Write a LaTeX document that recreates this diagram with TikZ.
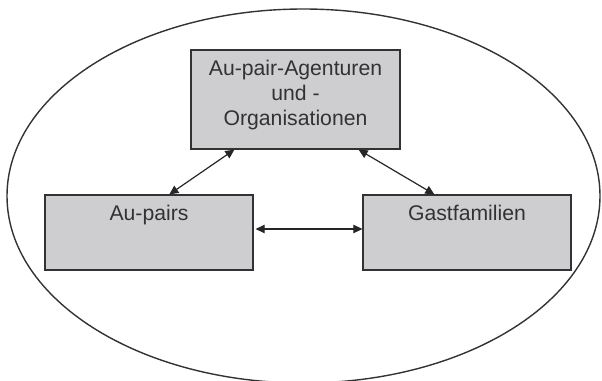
\documentclass[tikz,border=0pt]{standalone}
\usepackage{fontspec}
\setmainfont{Liberation Sans}
\usetikzlibrary{arrows.meta}
\definecolor{boxfill}{RGB}{206,206,208}
\definecolor{boxline}{RGB}{50,50,50}
\definecolor{txt}{RGB}{50,50,50}
\tikzset{
  box/.style={draw=boxline, fill=boxfill, line width=1.3pt, rectangle, inner sep=0pt},
  boxtext/.style={anchor=north, inner sep=0pt, text=txt, align=center,
    font=\fontsize{21.2}{25}\selectfont},
  link/.style={draw=black!85, line width=1.2pt, {Triangle[length=9pt,width=8.5pt]}-{Triangle[length=9pt,width=8.5pt]}},
  frame/.style={draw=black!80, line width=1.4pt}
}
\begin{document}
\begin{tikzpicture}[x=1pt,y=-1pt]
\useasboundingbox (0,0) rectangle (602,380);
\draw[frame] (303.5,196) ellipse [x radius=296.5pt, y radius=187pt];
\node[box, minimum width=209pt, minimum height=99pt] (ag) at (295.5,99.5) {};
\node[box, minimum width=208pt, minimum height=75pt] (ap) at (149,232.5) {};
\node[box, minimum width=208pt, minimum height=75pt] (gf) at (467,232.5) {};
\node[boxtext, yshift=-10.3pt] (agt) at (ag.north) {Au-pair-Agenturen\\und -\\Organisationen};
\node[boxtext, yshift=-10.3pt] (apt) at (ap.north) {Au-pairs};
\node[boxtext, yshift=-10.3pt] (gft) at (gf.north) {Gastfamilien};
\draw[link] ([xshift=44pt]ag.south west) -- ([xshift=125pt]ap.north west);
\draw[link] ([xshift=-42pt]ag.south east) -- ([xshift=72pt]gf.north west);
\draw[link] ([xshift=2pt,yshift=3.5pt]ap.east) -- ([yshift=3.5pt]gf.west);
\end{tikzpicture}
\end{document}
